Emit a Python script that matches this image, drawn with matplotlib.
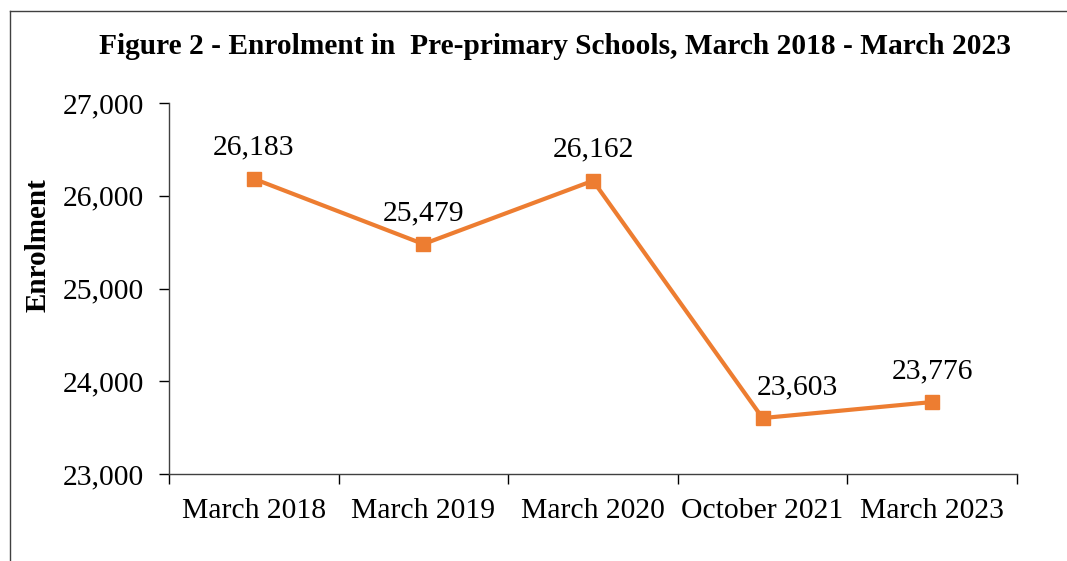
import numpy as np
import matplotlib.pyplot as plt
from matplotlib.lines import Line2D
from matplotlib.ticker import FuncFormatter

plt.rcParams['font.family'] = ['Liberation Serif', 'DejaVu Serif']

periods = ["March 2018", "March 2019", "March 2020", "October 2021", "March 2023"]
enrolment = [26183, 25479, 26162, 23603, 23776]
y_ticks = [23000, 24000, 25000, 26000, 27000]

# label offsets in points (the October 2021 label sits to the right of its marker)
label_dx = [0, 0, 0, 25, 0]

fig = plt.figure(figsize=(10.67, 5.61), dpi=100)
ax = fig.add_axes([169 / 1067, 1 - 474 / 561, (1017 - 169) / 1067, (474 - 103) / 561])

x = np.arange(len(periods))
ax.plot(x, enrolment, color='#ED7D31', lw=3, marker='s', ms=10, zorder=3)

for xi, v, dx in zip(x, enrolment, label_dx):
    ax.annotate(f"{v:,}", (xi, v), xytext=(dx, 13), textcoords='offset points',
                ha='center', va='bottom', fontsize=21.3)

ax.set_xlim(-0.5, len(periods) - 0.5)
ax.set_ylim(23000, 27000)
ax.set_yticks(y_ticks)
ax.yaxis.set_major_formatter(FuncFormatter(lambda v, p: f"{int(v):,}"))
ax.tick_params(axis='y', labelsize=21.3, length=7, width=1, pad=11)

ax.set_xticks(np.arange(-0.5, len(periods)), labels=[])
ax.set_xticks(x, labels=periods, minor=True)
ax.tick_params(axis='x', which='major', length=7, width=1)
ax.tick_params(axis='x', which='minor', length=0, labelsize=21.3, pad=17)

for s in ['top', 'right']:
    ax.spines[s].set_visible(False)
for s in ['left', 'bottom']:
    ax.spines[s].set_color('#404040')
    ax.spines[s].set_linewidth(1)

fig.text(555 / 1067, 1 - 47 / 561,
         "Figure 2 - Enrolment in  Pre-primary Schools, March 2018 - March 2023",
         ha='center', va='center', fontsize=21.2, fontweight='bold')
fig.text(38 / 1067, 1 - 245 / 561, "Enrolment", rotation=90, ha='center', va='center',
         fontsize=21, fontweight='bold')

# outer frame (top and left edges only)
fig.add_artist(Line2D([10 / 1067, 1], [1 - 11 / 561, 1 - 11 / 561], color='#404040', lw=1))
fig.add_artist(Line2D([10 / 1067, 10 / 1067], [0, 1 - 11 / 561], color='#404040', lw=1))

fig.savefig('out.png', dpi=100)
